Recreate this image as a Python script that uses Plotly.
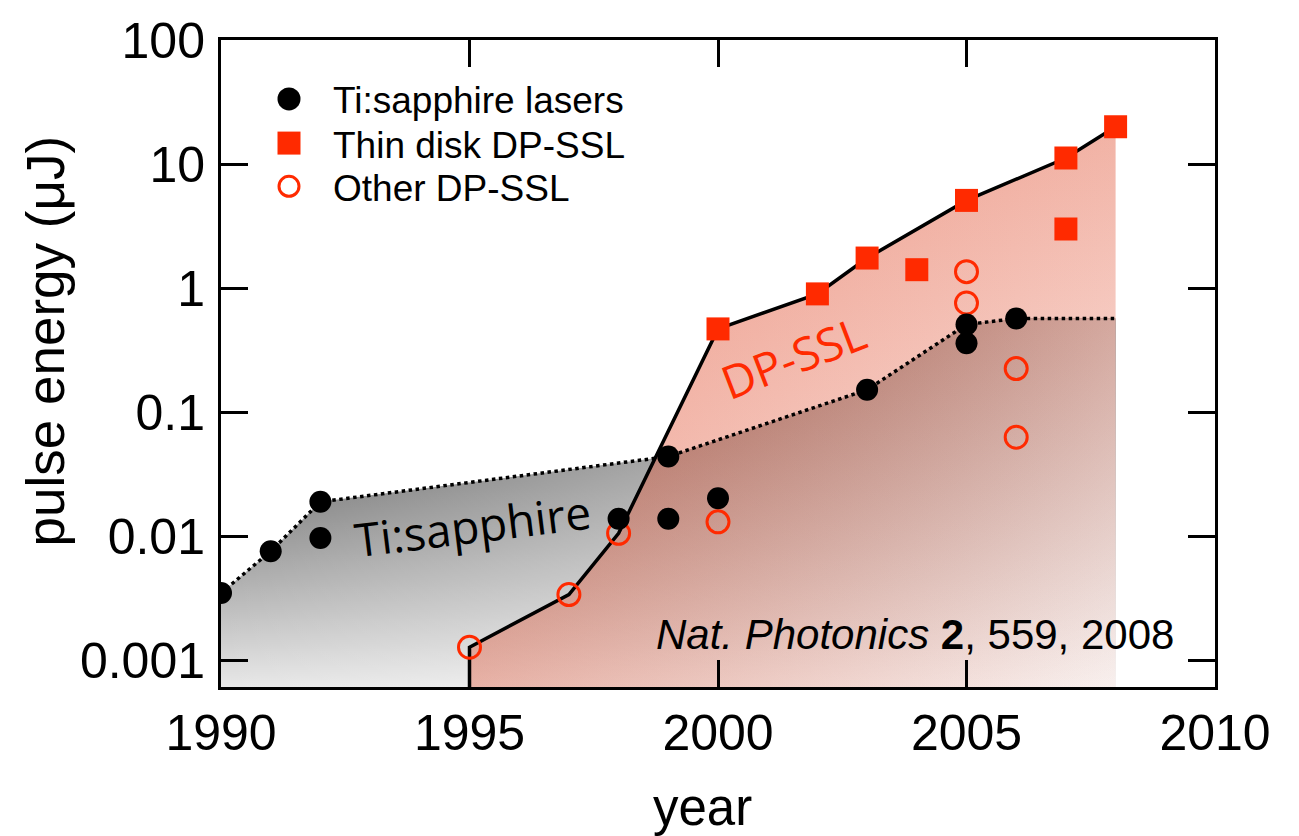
import numpy as np
import plotly.graph_objects as go

# ---- data -------------------------------------------------------------
# Ti:sapphire lasers (year, pulse energy in uJ)
ti_years = [1990, 1991, 1992, 1992, 1998, 1999, 1999, 2000, 2003, 2005, 2005, 2006]
ti_energy = [0.0035, 0.0076, 0.019, 0.0097, 0.0139, 0.044, 0.0139, 0.0203, 0.152, 0.51, 0.36, 0.57]

# thin disk diode-pumped solid-state lasers
disk_years = [2000, 2002, 2003, 2004, 2005, 2007, 2007, 2008]
disk_energy = [0.47, 0.9, 1.75, 1.41, 5.1, 11.2, 3.0, 20.0]

# other diode-pumped solid-state lasers
other_years = [1995, 1997, 1998, 2000, 2005, 2005, 2006, 2006]
other_energy = [0.00128, 0.0034, 0.0106, 0.0131, 1.36, 0.76, 0.225, 0.063]

# record envelopes of the two technologies
ti_env_years = [1990, 1991, 1992, 1999, 2003, 2005, 2006, 2008]
ti_env_energy = [0.0035, 0.0076, 0.019, 0.044, 0.152, 0.51, 0.57, 0.57]
dp_env_years = [1995, 1997, 1998, 2000, 2002, 2003, 2005, 2007, 2008]
dp_env_energy = [0.00128, 0.0034, 0.0106, 0.47, 0.9, 1.75, 5.1, 11.2, 20.0]

x_ticks = [1990, 1995, 2000, 2005, 2010]
y_ticks = [0.001, 0.01, 0.1, 1, 10, 100]
y_tick_text = ["0.001", "0.01", "0.1", "1", "10", "100"]

# ---- styling ----------------------------------------------------------
RED = "#ff2a00"
FONT = "Liberation Sans, Arial, Helvetica, sans-serif"
LABEL_FONT = "Open Sans, Noto Sans, sans-serif"
Y_MIN, Y_MAX = 6.12e-4, 100.0
FLOOR = 1e-4          # polygons are closed below the visible range
GRAD_LOW = 3.4e-4     # gray shading fades out just below the axis

W, H = 1299, 836
ML, MR, MT, MB = 221, 84, 28, 149
PW, PH = W - ML - MR, H - MT - MB


def px(x):
    return (x - ML) / PW


def py(y):
    return (H - MB - y) / PH


fig = go.Figure()

# Ti:sapphire region: dark at the record line, fading downward and to the right
ti_poly_x = [ti_env_years[0]] + ti_env_years + [ti_env_years[-1]]
ti_poly_y = [FLOOR] + ti_env_energy + [FLOOR]
fig.add_trace(go.Scatter(
    x=ti_poly_x, y=ti_poly_y, mode="lines", line=dict(width=0),
    fill="toself", hoverinfo="skip", showlegend=False,
    fillgradient=dict(type="vertical", start=GRAD_LOW, stop=max(ti_env_energy),
                      colorscale=[[0, "rgba(0,0,0,0)"], [1, "rgba(0,0,0,0.85)"]]),
))
fig.add_trace(go.Scatter(
    x=ti_poly_x, y=ti_poly_y, mode="lines", line=dict(width=0),
    fill="toself", hoverinfo="skip", showlegend=False,
    fillgradient=dict(type="horizontal", start=ti_env_years[0], stop=ti_env_years[-1],
                      colorscale=[[0, "rgba(255,255,255,0)"], [1, "rgba(255,255,255,0.78)"]]),
))

# DP-SSL region: salmon shading
dp_poly_x = [dp_env_years[0]] + dp_env_years + [dp_env_years[-1]]
dp_poly_y = [FLOOR] + dp_env_energy + [FLOOR]
fig.add_trace(go.Scatter(
    x=dp_poly_x, y=dp_poly_y, mode="lines", line=dict(width=0),
    fill="toself", hoverinfo="skip", showlegend=False,
    fillgradient=dict(type="vertical", start=Y_MIN, stop=max(dp_env_energy),
                      colorscale=[[0, "rgba(225,85,55,0.05)"], [1, "rgba(225,85,55,0.45)"]]),
))
fig.add_trace(go.Scatter(
    x=dp_poly_x, y=dp_poly_y, mode="lines", line=dict(width=0),
    fill="toself", hoverinfo="skip", showlegend=False,
    fillgradient=dict(type="horizontal", start=dp_env_years[0], stop=dp_env_years[-1],
                      colorscale=[[0, "rgba(225,85,55,0.35)"], [1, "rgba(225,85,55,0)"]]),
))

# envelope lines
fig.add_trace(go.Scatter(
    x=[dp_env_years[0]] + dp_env_years, y=[FLOOR] + dp_env_energy,
    mode="lines", line=dict(color="black", width=3.5),
    hoverinfo="skip", showlegend=False,
))
fig.add_trace(go.Scatter(
    x=ti_env_years, y=ti_env_energy,
    mode="lines", line=dict(color="black", width=3.5, dash="dot"),
    hoverinfo="skip", showlegend=False,
))

# data points
fig.add_trace(go.Scatter(
    x=other_years, y=other_energy, mode="markers", name="Other DP-SSL",
    marker=dict(symbol="circle-open", size=22, color=RED, line=dict(width=3, color=RED)),
    showlegend=False,
))
fig.add_trace(go.Scatter(
    x=disk_years, y=disk_energy, mode="markers", name="Thin disk DP-SSL",
    marker=dict(symbol="square", size=23, color=RED, line=dict(width=0)),
    showlegend=False,
))
fig.add_trace(go.Scatter(
    x=ti_years, y=ti_energy, mode="markers", name="Ti:sapphire lasers",
    marker=dict(symbol="circle", size=22, color="black", line=dict(width=0)),
    showlegend=False,
))

# key in the upper-left corner
legend_items = [
    ("Ti:sapphire lasers", 88),
    ("Thin disk DP-SSL", 133),
    ("Other DP-SSL", 177),
]
key_x = px(289)
shapes = [
    dict(type="circle", xref="paper", yref="paper", xsizemode="pixel", ysizemode="pixel",
         xanchor=key_x, yanchor=py(88), x0=-11.5, x1=11.5, y0=-11.5, y1=11.5,
         fillcolor="black", line=dict(width=0)),
    dict(type="rect", xref="paper", yref="paper", xsizemode="pixel", ysizemode="pixel",
         xanchor=key_x, yanchor=py(133), x0=-11.5, x1=11.5, y0=-11.5, y1=11.5,
         fillcolor=RED, line=dict(width=0)),
    dict(type="circle", xref="paper", yref="paper", xsizemode="pixel", ysizemode="pixel",
         xanchor=key_x, yanchor=py(177), x0=-10, x1=10, y0=-10, y1=10,
         fillcolor="rgba(0,0,0,0)", line=dict(width=3, color=RED)),
]
annotations = []
for text, yy in legend_items:
    annotations.append(dict(
        text=text, xref="paper", yref="paper", x=px(331), y=py(yy + 2),
        xanchor="left", yanchor="middle", showarrow=False,
        font=dict(family=FONT, size=37, color="black"),
    ))

# region labels
annotations.append(dict(
    text="Ti:sapphire", x=1995.07, y=np.log10(0.0124), xref="x", yref="y",
    showarrow=False, textangle=-7, xanchor="center", yanchor="middle",
    font=dict(family=LABEL_FONT, size=46, color="black"),
))
annotations.append(dict(
    text="DP-SSL", x=2001.5, y=np.log10(0.28), xref="x", yref="y",
    showarrow=False, textangle=-21, xanchor="center", yanchor="middle",
    font=dict(family=LABEL_FONT, size=46, color=RED),
))

# reference
annotations.append(dict(
    text="<i>Nat. Photonics</i> <b>2</b>, 559, 2008", xref="paper", yref="paper",
    x=px(1176), y=py(634), xanchor="right", yanchor="middle", showarrow=False,
    font=dict(family=FONT, size=42, color="black"),
))

# axis titles
annotations.append(dict(
    text="year", xref="paper", yref="paper", x=px(702), y=py(810),
    xanchor="center", yanchor="middle", showarrow=False,
    font=dict(family=FONT, size=51, color="black"),
))
annotations.append(dict(
    text="pulse energy (μJ)", xref="paper", yref="paper", x=px(45), y=py(335),
    xanchor="center", yanchor="middle", showarrow=False, textangle=-90,
    font=dict(family=FONT, size=53, color="black"),
))

axis_common = dict(
    ticks="inside", ticklen=27, tickwidth=3, tickcolor="black",
    showline=True, linewidth=3, linecolor="black", mirror="allticks",
    showgrid=False, zeroline=False,
    tickfont=dict(family=FONT, size=50, color="black"),
)

fig.update_layout(
    width=W, height=H,
    margin=dict(l=ML, r=MR, t=MT, b=MB),
    paper_bgcolor="white", plot_bgcolor="white",
    showlegend=False,
    xaxis=dict(range=[1990, 2010], tickmode="array", tickvals=x_ticks,
               ticklabelstandoff=0, **axis_common),
    yaxis=dict(type="log", range=[np.log10(Y_MIN), np.log10(Y_MAX)],
               tickmode="array", tickvals=y_ticks, ticktext=y_tick_text,
               ticklabelstandoff=3, **axis_common),
    shapes=shapes,
    annotations=annotations,
)

fig.write_html("out.html")
